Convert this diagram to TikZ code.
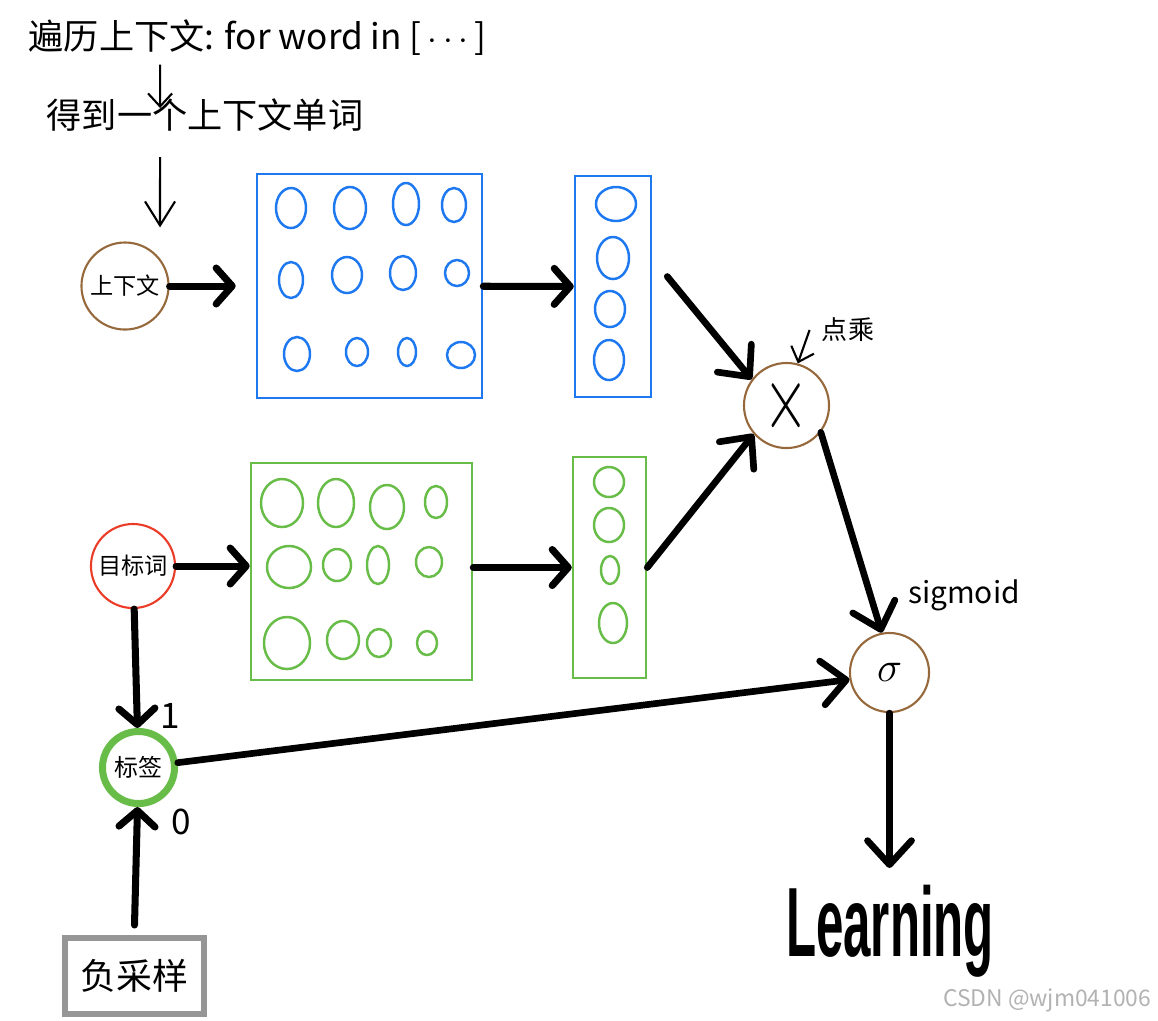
\documentclass[tikz,border=0pt]{standalone}
\usepackage{fontspec}
\setmainfont{Liberation Sans}
\newfontfamily\cjk{Noto Sans CJK SC}
\usepackage{tikz}
\usetikzlibrary{arrows.meta}
\definecolor{CtxBlue}{RGB}{30,120,240}
\definecolor{TgtGreen}{RGB}{104,188,72}
\definecolor{OpBrown}{RGB}{150,105,60}
\definecolor{TgtRed}{RGB}{235,60,40}
\definecolor{NegGray}{RGB}{150,150,150}
\tikzset{
  txt/.style={font={\cjk\fontsize{#1}{#1}\selectfont}},
  word/.style={circle,draw=OpBrown,line width=0.6pt,inner sep=0pt,txt=6.6},
  op/.style={circle,draw=OpBrown,line width=0.6pt,inner sep=0pt},
  mat/.style={draw,line width=0.7pt,inner sep=0pt},
  blob/.style={line width=0.7pt},
  flow/.style={-{Straight Barb[round,length=1.6mm,width=3.6mm]},line width=2pt,line cap=round},
  bigflow/.style={-{Straight Barb[round,length=2.4mm,width=4.4mm]},line width=1.9pt,line cap=round},
  pen/.style={-{Straight Barb[length=1.3mm,width=2.4mm]},line width=0.6pt},
  learnword/.style={font=\rmfamily\bfseries\fontsize{28}{30}\selectfont,inner sep=0pt},
}

\begin{document}
\begin{tikzpicture}[x=0.01cm,y=-0.01cm,font=\cjk]
  \useasboundingbox (0,0) rectangle (1158,1020);
  % titles
  \node[txt=10,anchor=west,inner sep=0pt] (title) at (28,38) {遍历上下文: for word in [\,$\cdots$\,]};
  \node[txt=10,anchor=west,inner sep=0pt] (get) at (46,115) {得到一个上下文单词};
  \draw[pen] ([xshift=13.2mm,yshift=-0.8mm]title.south west) -- ([xshift=11.4mm,yshift=-1mm]get.north west);

  % context branch
  \node[word,minimum size=8.7mm] (ctx) at (125,286) {上下文};
  \draw[pen,-{Straight Barb[length=2.4mm,width=3mm]}] ([xshift=11.4mm,yshift=-2.5mm]get.south west) -- ([xshift=3.5mm,yshift=1.4mm]ctx.north);
  \node[mat,draw=CtxBlue,minimum width=2.25cm,minimum height=2.24cm] (cmat) at (369.5,286) {};
  \node[mat,draw=CtxBlue,minimum width=0.76cm,minimum height=2.21cm] (cvec) at (613,286.5) {};
  \foreach \x/\y/\a/\b in {291/208/1.5/2.0, 350/208/1.6/2.1, 406/204/1.3/2.1, 454/205/1.2/1.7,
                          291/280/1.2/1.8, 347/275/1.5/1.8, 403/273/1.3/1.7, 457/273/1.2/1.3,
                          297/354/1.3/1.7, 357/352/1.1/1.4, 407/352/0.9/1.4, 461/355/1.4/1.3,
                          616/204/2.0/1.7, 613/258/1.6/2.1, 610/309/1.5/1.8, 609/360/1.5/2.0}
    \draw[blob,CtxBlue] (\x,\y) ellipse [x radius=\a mm, y radius=\b mm];
  \draw[flow,shorten >=2mm] (ctx) -- (cmat);
  \draw[flow] (cmat) -- (cvec);

  % target branch
  \node[word,draw=TgtRed,minimum size=8.4mm] (tgt) at (133,566) {目标词};
  \node[mat,draw=TgtGreen,minimum width=2.21cm,minimum height=2.17cm] (gmat) at (361.5,571.5) {};
  \node[mat,draw=TgtGreen,minimum width=0.73cm,minimum height=2.21cm] (gvec) at (609.5,567.5) {};
  \foreach \x/\y/\a/\b in {282/503/2.1/2.4, 336/503/1.8/2.4, 387/507/1.7/2.2, 436/502/1.1/1.6,
                          289/567/2.2/2.1, 337/565/1.4/1.6, 378/565/1.1/1.9, 429/562/1.3/1.5,
                          287/643/2.3/2.6, 343/640/1.6/1.9, 379/643/1.2/1.4, 427/643/1.0/1.2,
                          609/482/1.5/1.5, 609/525/1.5/1.7, 610/570/0.9/1.4, 613/623/1.4/2.0}
    \draw[blob,TgtGreen] (\x,\y) ellipse [x radius=\a mm, y radius=\b mm];
  \draw[flow] (tgt) -- (tgt -| gmat.west);
  \draw[flow] (gmat.east |- gvec) -- (gvec.west);

  % dot product and sigmoid
  \node[op,minimum size=8.5mm] (dot) at (786.5,405.5) {\fontsize{20}{20}\selectfont\scalebox{0.8}[1.25]{$\times$}};
  \node[txt=7.4] (dotnote) at (848,330) {点乘};
  \draw[pen] (dotnote.west) -- (dot.75);
  \draw[bigflow] ([shift={(15,-10)}]cvec.east) -- (dot.143);
  \draw[bigflow] (gvec.east) -- (dot.221);
  \node[op,minimum size=7.9mm] (sig) at (889.5,672.5) {\fontsize{13}{13}\selectfont$\sigma$};
  \node[txt=8.5] (signote) at (964,595) {sigmoid};
  \draw[bigflow] (dot.322) -- (sig.101);

  % labels
  \node[word,draw=TgtGreen,line width=2pt,minimum size=7.2mm,txt=6.8] (lab) at (138.5,767.5) {标签};
  \node[rectangle,draw=NegGray,line width=1.7pt,minimum width=1.39cm,minimum height=0.76cm,txt=10.2] (neg) at (134.5,976) {负采样};
  \node[txt=10] (one) at (170,716) {1};
  \node[txt=10] (zero) at (181,822) {0};
  \draw[flow] (tgt) -- (lab);
  \draw[flow] ([yshift=1mm]neg.north) -- (lab);
  \draw[bigflow] (lab) -- (sig.190);

  % output
  \node[learnword,anchor=north] (learn) at (890,884) {\scalebox{0.5}[1]{Learning}};
  \draw[bigflow,shorten >=1.6mm] (sig) -- (sig |- learn.north);

  \node[txt=6.5,text=black!30,anchor=east,inner sep=0pt] (mark) at (1152,1000) {CSDN @wjm041006};
\end{tikzpicture}
\end{document}
